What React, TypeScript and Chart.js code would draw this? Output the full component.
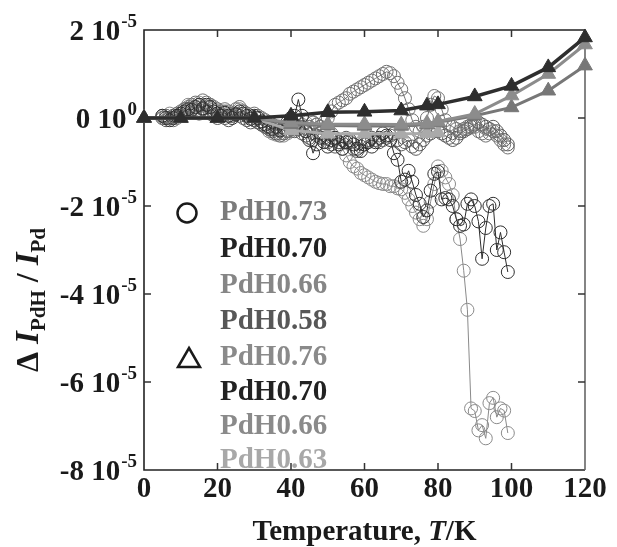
import React, { useEffect, useRef } from "react";
import { Chart, registerables } from "chart.js";
Chart.register(...registerables);

// ---------- data (y in units of 1e-5) ----------
const T_TRI = [0, 10, 20, 30, 40, 50, 60, 70, 77, 80, 90, 100, 110, 120];
const TRI_070 = [0, 0, 0, 0, 0.05, 0.13, 0.14, 0.17, 0.28, 0.31, 0.49, 0.73, 1.15, 1.83];
const TRI_076 = [0, 0, 0, 0, -0.1, -0.14, -0.14, -0.15, -0.12, -0.08, 0.09, 0.51, 1.0, 1.67];
const TRI_066 = [0, 0, 0, 0, -0.14, -0.17, -0.18, -0.18, -0.15, -0.1, 0.05, 0.24, 0.62, 1.19];
const TRI_063 = [0, 0, 0, 0, -0.28, -0.36, -0.36, -0.36, -0.35, -0.33, null, null, null, null];

const T_CIRC = [5, 6, 7, 8, 9, 10, 11, 12, 13, 14, 15, 16, 17, 18, 19, 20, 21, 22, 23, 24, 25, 26, 27, 28, 29, 30, 31, 32, 33, 34, 35, 36, 37, 38, 39, 40, 41, 42, 43, 44, 45, 46, 47, 48, 49, 50, 51, 52, 53, 54, 55, 56, 57, 58, 59, 60, 61, 62, 63, 64, 65, 66, 67, 68, 69, 70, 71, 72, 73, 74, 75, 76, 77, 78, 79, 80, 81, 82, 83, 84, 85, 86, 87, 88, 89, 90, 91, 92, 93, 94, 95, 96, 97, 98, 99];

const CIRC_073 = [0.0, 0.05, 0.0, -0.05, 0.05, 0.15, 0.2, 0.25, 0.3, 0.35, 0.3, 0.4, 0.35, 0.3, 0.25, 0.2, 0.15, 0.2, 0.15, 0.1, 0.2, 0.25, 0.15, 0.1, 0.05, 0.1, 0.05, 0.0, -0.05, -0.1, -0.15, -0.2, -0.3, -0.35, -0.3, -0.25, -0.15, -0.1, -0.2, -0.3, -0.2, -0.1, -0.15, -0.2, -0.1, 0.0, 0.15, 0.3, 0.35, 0.4, 0.45, 0.55, 0.6, 0.65, 0.7, 0.75, 0.8, 0.85, 0.9, 0.95, 1.0, 1.05, 1.02, 0.95, 0.8, 0.65, 0.45, 0.2, -0.05, -0.2, -0.3, -0.2, 0.0, 0.3, 0.5, 0.45, 0.2, -0.05, -0.15, -0.2, -0.25, -0.3, -0.25, -0.2, -0.15, -0.2, -0.3, -0.35, -0.4, -0.35, -0.3, -0.4, -0.5, -0.6, -0.67];

const CIRC_070 = [0.05, 0.0, -0.05, 0.0, 0.05, 0.1, 0.15, 0.2, 0.18, 0.25, 0.3, 0.22, 0.3, 0.25, 0.15, 0.1, 0.05, 0.12, 0.05, 0.0, 0.08, 0.15, 0.1, 0.05, -0.02, 0.05, 0.0, -0.08, -0.15, -0.2, -0.25, -0.2, -0.28, -0.22, -0.1, 0.0, 0.05, 0.42, 0.05, -0.3, -0.5, -0.8, -0.6, -0.45, -0.55, -0.65, -0.5, -0.45, -0.6, -0.7, -0.55, -0.5, -0.6, -0.7, -0.75, -0.6, -0.55, -0.65, -0.55, -0.45, -0.35, -0.4, -0.5, -0.8, -0.95, -1.45, -1.4, -1.2, -1.45, -1.75, -1.95, -2.25, -2.1, -1.65, -1.27, -1.22, -1.85, -1.82, -1.85, -2.0, -2.3, -2.45, -2.42, -1.95, -1.85, -2.0, -2.35, -3.2, -2.5, -2.0, -1.95, -3.0, -2.6, -3.05, -3.5];

const CIRC_066 = [0.0, 0.05, 0.1, 0.05, 0.0, 0.1, 0.2, 0.3, 0.25, 0.2, 0.35, 0.3, 0.25, 0.3, 0.2, 0.15, 0.1, 0.15, 0.1, 0.05, 0.1, 0.2, 0.15, 0.1, 0.0, -0.05, -0.1, -0.15, -0.2, -0.3, -0.35, -0.38, -0.35, -0.4, -0.35, -0.3, -0.25, -0.2, -0.15, -0.1, -0.05, -0.1, -0.15, -0.2, -0.25, -0.3, -0.35, -0.45, -0.55, -0.7, -0.85, -1.0, -1.1, -1.15, -1.25, -1.3, -1.35, -1.4, -1.45, -1.48, -1.5, -1.5, -1.55, -1.55, -1.6, -1.62, -1.7, -1.85, -2.0, -2.15, -2.3, -2.45, -2.3, -1.9, -1.5, -1.1, -1.2, -1.35, -1.5, -1.75, -2.3, -2.75, -3.47, -4.36, -6.6, -6.66, -7.1, -6.98, -7.28, -6.48, -6.36, -6.8, -6.6, -6.65, -7.16];

const CIRC_058 = [0.05, -0.05, 0.0, 0.05, 0.1, 0.05, 0.1, 0.15, 0.2, 0.15, 0.1, 0.2, 0.15, 0.1, 0.05, 0.0, 0.05, 0.0, -0.05, 0.05, 0.1, 0.05, 0.0, -0.05, -0.1, -0.05, -0.1, -0.15, -0.2, -0.25, -0.3, -0.35, -0.4, -0.35, -0.3, -0.25, -0.3, -0.25, -0.35, -0.4, -0.45, -0.5, -0.4, -0.35, -0.45, -0.55, -0.6, -0.65, -0.55, -0.5, -0.45, -0.55, -0.7, -0.75, -0.65, -0.55, -0.5, -0.45, -0.5, -0.55, -0.5, -0.45, -0.4, -0.35, -0.5, -0.6, -0.55, -0.5, -0.65, -0.7, -0.6, -0.5, -0.4, -0.35, -0.3, -0.3, -0.35, -0.4, -0.45, -0.5, -0.45, -0.35, -0.3, -0.25, -0.2, -0.15, -0.1, -0.15, -0.2, -0.25, -0.2, -0.3, -0.4, -0.5, -0.6];

const X_TICKS = [0, 20, 40, 60, 80, 100, 120];
const Y_TICKS = [2, 0, -2, -4, -6, -8];
const Y_TICK_MANTISSA = ["2", "0", "-2", "-4", "-6", "-8"];
const Y_TICK_EXPONENT = ["-5", "0", "-5", "-5", "-5", "-5"];
const LEGEND_CIRCLE = ["PdH0.73", "PdH0.70", "PdH0.66", "PdH0.58"];
const LEGEND_TRIANGLE = ["PdH0.76", "PdH0.70", "PdH0.66", "PdH0.63"];

// ---------- styles ----------
const FONT = "'Liberation Serif', 'Times New Roman', serif";
const C_CIRC = { c073: "#707070", c070: "#2e2e2e", c066: "#8a8a8a", c058: "#595959" };
const C_TRI = { t070: "#2e2e2e", t076: "#8c8c8c", t066: "#777777", t063: "#aaaaaa" };
const LEG_CIRC_COLORS = ["#7b7b7b", "#222222", "#868686", "#575757"];
const LEG_TRI_COLORS = ["#8a8a8a", "#222222", "#8a8a8a", "#a8a8a8"];

const pts = (xs: number[], ys: (number | null)[]) => xs.map((x, i) => ({ x, y: ys[i] }));

const triDs = (data: any, color: string, width: number) => ({
  data,
  borderColor: color,
  backgroundColor: color,
  borderWidth: width,
  pointStyle: "triangle",
  pointRadius: 8.5,
  pointBackgroundColor: color,
  pointBorderColor: color,
  pointBorderWidth: 1,
  tension: 0,
  clip: false,
  spanGaps: false,
});

const circDs = (data: any, color: string) => ({
  data,
  borderColor: color,
  backgroundColor: "rgba(0,0,0,0)",
  borderWidth: 1,
  pointStyle: "circle",
  pointRadius: 6.5,
  pointBackgroundColor: "rgba(0,0,0,0)",
  pointBorderColor: color,
  pointBorderWidth: 1,
  tension: 0,
  clip: false,
});

const decorPlugin = {
  id: "decor",
  beforeDatasetsDraw(chart: any) {
    const ctx = chart.ctx;
    const { left, right, top, bottom } = chart.chartArea;
    const xs = chart.scales.x;
    const ys = chart.scales.y;
    ctx.save();

    // legend (inside plot)
    const lx = 220;
    const rowsC = [213, 250, 286, 322];
    const rowsT = [358, 393, 427, 461];
    ctx.font = `bold 29px ${FONT}`;
    ctx.textAlign = "left";
    ctx.textBaseline = "middle";
    LEGEND_CIRCLE.forEach((t, i) => {
      ctx.fillStyle = LEG_CIRC_COLORS[i];
      ctx.fillText(t, lx, rowsC[i]);
    });
    LEGEND_TRIANGLE.forEach((t, i) => {
      ctx.fillStyle = LEG_TRI_COLORS[i];
      ctx.fillText(t, lx, rowsT[i]);
    });
    // legend symbols
    ctx.strokeStyle = "#1a1a1a";
    ctx.lineWidth = 2.5;
    ctx.beginPath();
    ctx.arc(187, 213, 9.5, 0, Math.PI * 2);
    ctx.stroke();
    ctx.beginPath();
    ctx.moveTo(189, 348);
    ctx.lineTo(200, 367);
    ctx.lineTo(178, 367);
    ctx.closePath();
    ctx.stroke();

    // frame
    ctx.lineWidth = 1.6;
    ctx.strokeStyle = "#222";
    ctx.beginPath();
    ctx.moveTo(right, top);
    ctx.lineTo(left, top);
    ctx.lineTo(left, bottom);
    ctx.lineTo(right, bottom);
    ctx.stroke();
    ctx.strokeStyle = "#666";
    ctx.beginPath();
    ctx.moveTo(right, top);
    ctx.lineTo(right, bottom);
    ctx.stroke();

    // ticks (inward)
    const tl = 7;
    ctx.lineWidth = 1.5;
    ctx.strokeStyle = "#333";
    X_TICKS.forEach((v) => {
      const px = xs.getPixelForValue(v);
      if (px <= left + 1 || px >= right - 1) return;
      ctx.beginPath();
      ctx.moveTo(px, bottom);
      ctx.lineTo(px, bottom - tl);
      ctx.moveTo(px, top);
      ctx.lineTo(px, top + tl);
      ctx.stroke();
    });
    Y_TICKS.forEach((v) => {
      const py = ys.getPixelForValue(v);
      if (py <= top + 1 || py >= bottom - 1) return;
      ctx.beginPath();
      ctx.moveTo(left, py);
      ctx.lineTo(left + tl, py);
      ctx.moveTo(right, py);
      ctx.lineTo(right - tl, py);
      ctx.stroke();
    });
    ctx.restore();
  },
  afterDraw(chart: any) {
    const ctx = chart.ctx;
    const { left, right, top, bottom } = chart.chartArea;
    const xs = chart.scales.x;
    const ys = chart.scales.y;
    ctx.save();
    ctx.fillStyle = "#1a1a1a";

    // x tick labels
    ctx.font = `bold 29px ${FONT}`;
    ctx.textAlign = "center";
    ctx.textBaseline = "middle";
    X_TICKS.forEach((v) => {
      ctx.fillText(String(v), xs.getPixelForValue(v), bottom + 20);
    });

    // y tick labels with superscript exponent
    const rx = 137;
    Y_TICKS.forEach((v, i) => {
      const py = ys.getPixelForValue(v);
      ctx.font = `bold 19px ${FONT}`;
      const ew = ctx.measureText(Y_TICK_EXPONENT[i]).width;
      ctx.textAlign = "left";
      ctx.textBaseline = "alphabetic";
      ctx.fillText(Y_TICK_EXPONENT[i], rx - ew, py - 3);
      ctx.font = `bold 29px ${FONT}`;
      ctx.textAlign = "right";
      ctx.fillText(Y_TICK_MANTISSA[i] + " 10", rx - ew - 1, py + 10);
    });

    // x title
    const parts = [
      { t: "Temperature, ", f: `bold 29px ${FONT}` },
      { t: "T", f: `italic bold 29px ${FONT}` },
      { t: "/K", f: `bold 29px ${FONT}` },
    ];
    let tw = 0;
    parts.forEach((p) => {
      ctx.font = p.f;
      tw += ctx.measureText(p.t).width;
    });
    let cx = (left + right) / 2 - tw / 2;
    ctx.textAlign = "left";
    ctx.textBaseline = "alphabetic";
    parts.forEach((p) => {
      ctx.font = p.f;
      ctx.fillText(p.t, cx, 540);
      cx += ctx.measureText(p.t).width;
    });

    // y title (rotated)
    const yparts = [
      { t: "\u0394 ", f: `bold 32px ${FONT}`, dy: 0 },
      { t: "I", f: `italic bold 33px ${FONT}`, dy: 0 },
      { t: "PdH", f: `bold 21px ${FONT}`, dy: 7 },
      { t: " / ", f: `bold 32px ${FONT}`, dy: 0 },
      { t: "I", f: `italic bold 33px ${FONT}`, dy: 0 },
      { t: "Pd", f: `bold 21px ${FONT}`, dy: 7 },
    ];
    let yw = 0;
    yparts.forEach((p) => {
      ctx.font = p.f;
      yw += ctx.measureText(p.t).width;
    });
    ctx.translate(27, 300);
    ctx.rotate(-Math.PI / 2);
    let ox = -yw / 2;
    yparts.forEach((p) => {
      ctx.font = p.f;
      ctx.fillText(p.t, ox, 11 + p.dy);
      ox += ctx.measureText(p.t).width;
    });
    ctx.restore();
  },
};

export default function App() {
  const ref = useRef<HTMLCanvasElement | null>(null);
  useEffect(() => {
    if (!ref.current) return;
    const chart = new Chart(ref.current, {
      type: "line",
      data: {
        datasets: [
          triDs(pts(T_TRI, TRI_070), C_TRI.t070, 3.5),
          triDs(pts(T_TRI, TRI_076), C_TRI.t076, 3),
          triDs(pts(T_TRI, TRI_066), C_TRI.t066, 3),
          triDs(pts(T_TRI, TRI_063), C_TRI.t063, 3),
          circDs(pts(T_CIRC, CIRC_070), C_CIRC.c070),
          circDs(pts(T_CIRC, CIRC_073), C_CIRC.c073),
          circDs(pts(T_CIRC, CIRC_058), C_CIRC.c058),
          circDs(pts(T_CIRC, CIRC_066), C_CIRC.c066),
        ] as any,
      },
      options: {
        responsive: false,
        animation: false,
        devicePixelRatio: 1,
        layout: { padding: { left: 144, right: 32, top: 30, bottom: 77 } },
        plugins: { legend: { display: false }, tooltip: { enabled: false } },
        scales: {
          x: { type: "linear", min: 0, max: 120, display: false },
          y: { type: "linear", min: -8, max: 2, display: false },
        },
      } as any,
      plugins: [decorPlugin],
    });
    return () => chart.destroy();
  }, []);
  return (
    <div style={{ position: "absolute", left: 0, top: 0, width: 617, height: 547, background: "#fff" }}>
      <canvas ref={ref} width={617} height={547} style={{ width: 617, height: 547 }} />
    </div>
  );
}
